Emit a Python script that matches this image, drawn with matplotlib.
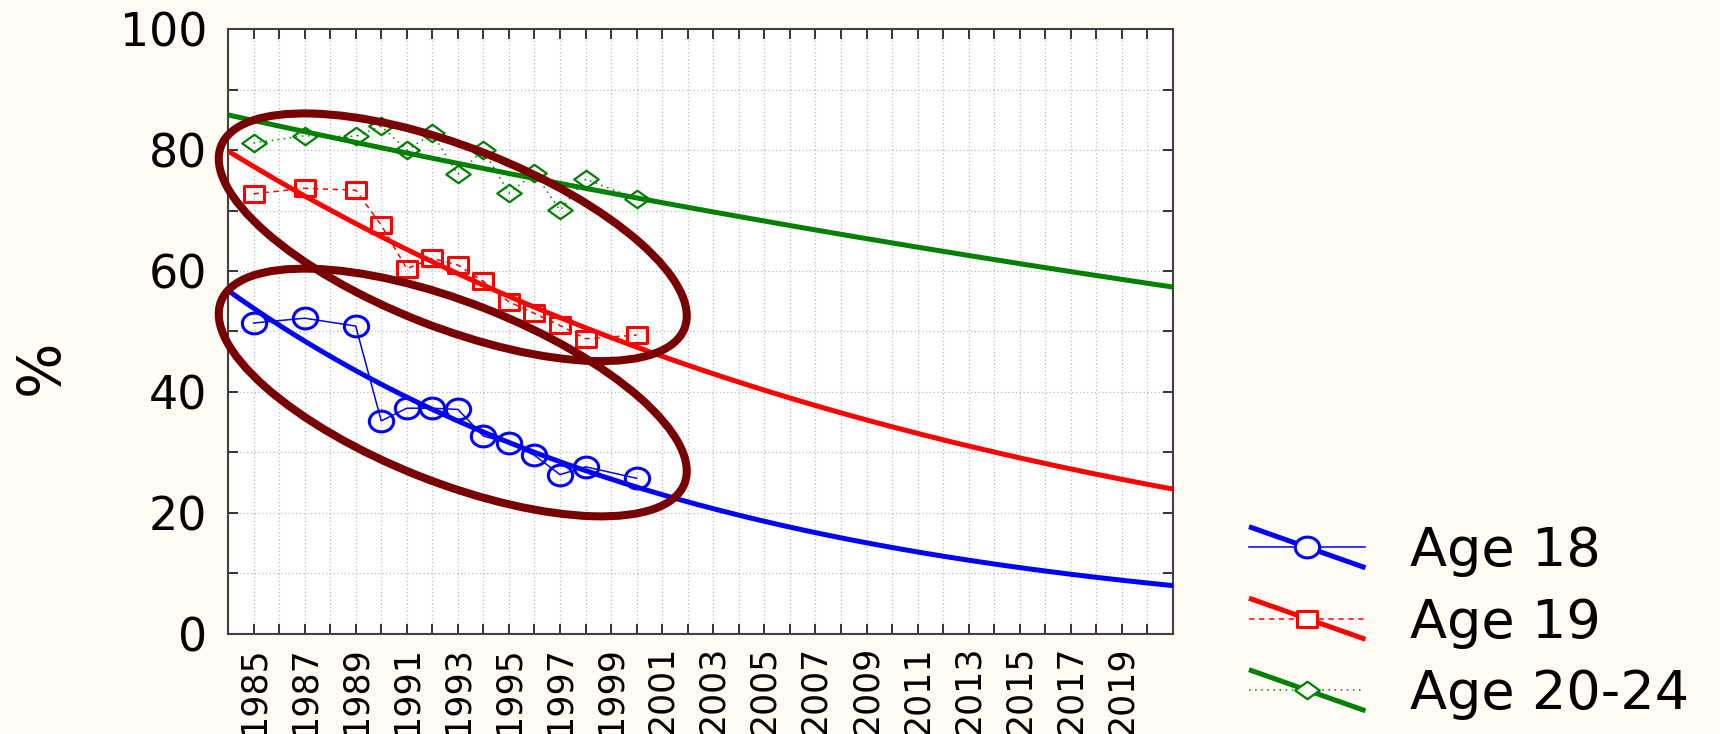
import numpy as np
import matplotlib
matplotlib.use("Agg")
import matplotlib.pyplot as plt
from matplotlib.lines import Line2D
from matplotlib.patches import Ellipse
from matplotlib.path import Path
from matplotlib.transforms import IdentityTransform
from matplotlib.legend_handler import HandlerBase
from matplotlib.ticker import MultipleLocator, FixedLocator

# ---------------- data ----------------
years = [1985, 1987, 1989, 1990, 1991, 1992, 1993, 1994, 1995, 1996, 1997, 1998, 2000]
age18 = [51.4, 52.2, 50.9, 35.2, 37.3, 37.3, 37.1, 32.7, 31.5, 29.5, 26.3, 27.6, 25.7]
age19 = [72.8, 73.7, 73.4, 67.6, 60.4, 62.1, 61.0, 58.3, 54.9, 53.0, 51.0, 48.8, 49.4]
age2024 = [81.2, 82.4, 82.3, 84.0, 80.0, 82.8, 76.0, 80.1, 72.9, 76.2, 70.1, 75.2, 72.0]
series_labels = ["Age 18", "Age 19", "Age 20-24"]
x_range = (1984, 2021)
xtick_years = list(range(1985, 2020, 2))
ytick_values = [0, 20, 40, 60, 80, 100]
y_label = "%"

# annotation ellipses (centres in data units)
ellipse_centres = [(1992.8, 65.6), (1992.8, 39.9)]

# ---------------- style ----------------
plt.rcParams["font.family"] = ["DejaVu Sans"]
BG = "#FFFBF5"
COLORS = ["#0000FF", "#FF0000", "#008000"]
DATA_LS = ["-", (0, (3.5, 3.0)), (0, (1.0, 3.0))]


def stretched(verts, codes, sx):
    v = np.asarray(verts, dtype=float) * np.array([sx, 1.0])
    return Path(v, codes)


circ = Path.unit_circle()
m_circle = stretched(circ.vertices, circ.codes, 1.17)
m_square = stretched([(-0.5, -0.5), (0.5, -0.5), (0.5, 0.5), (-0.5, 0.5), (-0.5, -0.5)],
                     [Path.MOVETO, Path.LINETO, Path.LINETO, Path.LINETO, Path.CLOSEPOLY], 1.25)
m_diamond = stretched([(0, 1), (1, 0), (0, -1), (-1, 0), (0, 1)],
                      [Path.MOVETO, Path.LINETO, Path.LINETO, Path.LINETO, Path.CLOSEPOLY], 1.4)
MARKERS = [m_circle, m_square, m_diamond]
MS = [17.5, 15.0, 17.6]
MEW = [2.2, 2.2, 1.6]

fig = plt.figure(figsize=(17.2, 7.34), dpi=100, facecolor=BG)
ax = fig.add_axes([228 / 1720, (734 - 633.5) / 734, 945 / 1720, 604 / 734])
ax.set_facecolor("white")
ax.set_xlim(*x_range)
ax.set_ylim(0, 100)

xfine = np.linspace(x_range[0], x_range[1], 300)
fit_lines = []
data_lines = []
for i, vals in enumerate([age18, age19, age2024]):
    (dl,) = ax.plot(years, vals, color=COLORS[i], lw=1.1, ls=DATA_LS[i],
                    marker=MARKERS[i], ms=MS[i], mew=MEW[i], mfc="none",
                    mec=COLORS[i], zorder=3)
    coef = np.polyfit(np.array(years, float), np.log(vals), 1)
    (fl,) = ax.plot(xfine, np.exp(np.polyval(coef, xfine)), color=COLORS[i],
                    lw=3.6, zorder=4, solid_capstyle="butt")
    data_lines.append(dl)
    fit_lines.append(fl)

# axes / ticks / grid
ax.xaxis.set_major_locator(FixedLocator(xtick_years))
ax.xaxis.set_minor_locator(MultipleLocator(1))
ax.set_xticklabels([str(y) for y in xtick_years], rotation=90, fontsize=25)
ax.yaxis.set_major_locator(FixedLocator(ytick_values))
ax.yaxis.set_minor_locator(MultipleLocator(10))
ax.set_yticklabels([str(v) for v in ytick_values], fontsize=33)
ax.tick_params(which="both", direction="in", top=True, right=True, length=7,
               width=1.4, color="#333333")
ax.tick_params(axis="x", which="major", pad=9)
ax.tick_params(axis="y", which="major", pad=15)
ax.grid(which="both", axis="both", ls=(0, (1, 2)), color="#b8b8b8", lw=0.9, zorder=0)
ax.set_axisbelow(True)
for s in ax.spines.values():
    s.set_color("#404040")
    s.set_linewidth(1.5)

fig.text(41 / 1720, (734 - 367) / 734, y_label, rotation=90, ha="center",
         va="center", fontsize=42)

# annotation ellipses (drawn in pixel units around data-space centres)
fig.canvas.draw()
for cx, cy in ellipse_centres:
    px, py = ax.transData.transform((cx, cy))
    e = Ellipse((px, py), 498, 180, angle=-21.5, transform=IdentityTransform(),
                fill=False, edgecolor="#780000", lw=5.8, zorder=10, clip_on=False)
    fig.add_artist(e)


class FitDataHandler(HandlerBase):
    def __init__(self, idx, rise):
        super().__init__()
        self.idx = idx
        self.rise = rise

    def create_artists(self, legend, orig_handle, xdescent, ydescent, width,
                       height, fontsize, trans):
        i = self.idx
        x0 = -xdescent
        x1 = x0 + width
        yc = -ydescent + height / 2
        diag = Line2D([x0, x1], [yc + self.rise, yc - self.rise], color=COLORS[i],
                      lw=3.6, solid_capstyle="butt")
        hl = Line2D([x0, x1], [yc, yc], color=COLORS[i], lw=1.1, ls=DATA_LS[i])
        mk = Line2D([(x0 + x1) / 2], [yc], ls="none", marker=MARKERS[i], ms=MS[i],
                    mew=MEW[i], mec=COLORS[i], mfc="white")
        for a in (diag, hl, mk):
            a.set_transform(trans)
        return [diag, hl, mk]


leg = ax.legend(handles=fit_lines, labels=series_labels,
                handler_map={fl: FitDataHandler(i, 14.8) for i, fl in enumerate(fit_lines)},
                loc="center left", bbox_to_anchor=(1249 / 1720, (734 - 622.7) / 734),
                bbox_transform=fig.transFigure, frameon=False, fontsize=39,
                handlelength=2.15, handleheight=0.7, handletextpad=0.82,
                labelspacing=0.36, borderpad=0, borderaxespad=0)

fig.savefig("out.png", dpi=100, facecolor=BG)
